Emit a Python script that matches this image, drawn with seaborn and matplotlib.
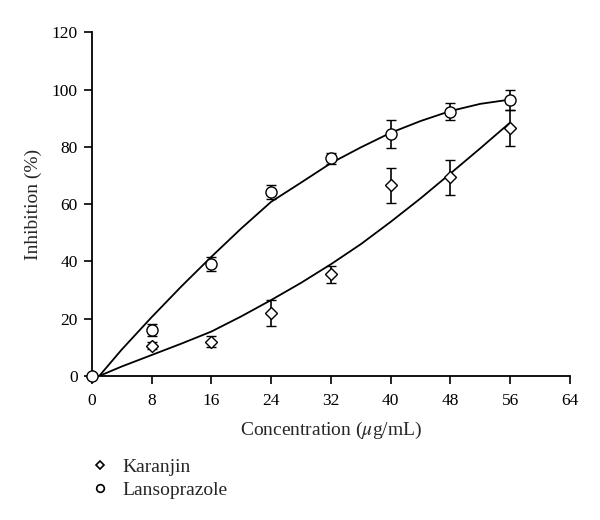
import pandas as pd
import matplotlib
matplotlib.use("Agg")
import matplotlib.pyplot as plt
from matplotlib.lines import Line2D
import seaborn as sns

# measured points (mean +/- error)
conc = [0, 8, 16, 24, 32, 40, 48, 56]
karanjin = [0, 10.5, 12, 22, 35.5, 66.5, 69.3, 86.5]
karanjin_err = [0, 1.2, 2, 4.5, 3, 6, 6.2, 6.2]
lanso = [0, 16, 39, 64.3, 76, 84.5, 92.3, 96.3]
lanso_err = [0, 2, 2.5, 2.5, 2, 5, 3, 3.6]

# fitted curves
fit_x = [1, 4, 8, 12, 16, 20, 24, 28, 32, 36, 40, 44, 48, 52, 56]
fit_karanjin = [0, 3.3, 7.3, 11.3, 15.5, 20.8, 26.5, 32.5, 39, 46, 53.8, 62, 70.7, 79.5, 88.5]
fit_lanso = [0, 9.2, 20.5, 31.3, 41.6, 51.5, 60.8, 67.5, 74.3, 79.8, 84.9, 89, 92.5, 95, 96.5]

xticks = list(range(0, 65, 8))
yticks = list(range(0, 121, 20))

sns.set_theme(style="ticks")
plt.rcParams["font.family"] = ["Liberation Serif", "DejaVu Serif"]
plt.rcParams["mathtext.fontset"] = "stix"

fig = plt.figure(figsize=(6, 5.2), dpi=100)
ax = fig.add_axes([0.153, 0.277, 0.797, 0.661])

fits = pd.DataFrame({"x": fit_x, "Karanjin": fit_karanjin, "Lansoprazole": fit_lanso})
sns.lineplot(data=fits, x="x", y="Karanjin", ax=ax, color="black", lw=1.3)
sns.lineplot(data=fits, x="x", y="Lansoprazole", ax=ax, color="black", lw=1.3)

ax.errorbar(conc, karanjin, yerr=karanjin_err, fmt="D", ms=6, mfc="white", mec="black",
            mew=1.0, ecolor="black", elinewidth=1.2, capsize=3.3, capthick=1.2,
            clip_on=False, zorder=3)
ax.errorbar(conc, lanso, yerr=lanso_err, fmt="o", ms=8, mfc="white", mec="black",
            mew=1.0, ecolor="black", elinewidth=1.2, capsize=3.3, capthick=1.2,
            clip_on=False, zorder=3)

ax.set_xlim(0, 64)
ax.set_ylim(0, 120)
ax.set_xticks(xticks)
ax.set_yticks(yticks)
ax.tick_params(axis="both", labelsize=12.5, length=6, width=1.2, pad=4,
               color="black", labelcolor="black")
ax.tick_params(axis="x", pad=6)
for s in ["left", "bottom"]:
    ax.spines[s].set_linewidth(1.3)
    ax.spines[s].set_color("black")
sns.despine(ax=ax)

ax.set_xlabel(r"Concentration ($\mu$g/mL)", fontsize=14, labelpad=8)
ax.set_ylabel("Inhibition (%)", fontsize=14, labelpad=7)

handles = [
    Line2D([], [], ls="none", marker="D", ms=4.5, mfc="white", mec="black", mew=1.2),
    Line2D([], [], ls="none", marker="o", ms=5.5, mfc="white", mec="black", mew=1.2),
]
fig.legend(handles, ["Karanjin", "Lansoprazole"], loc="upper left",
           bbox_to_anchor=(0.14, 0.134), frameon=False, fontsize=14,
           handlelength=0.8, handletextpad=0.75, labelspacing=0.3, borderaxespad=0)

fig.savefig("out.png", dpi=100)
